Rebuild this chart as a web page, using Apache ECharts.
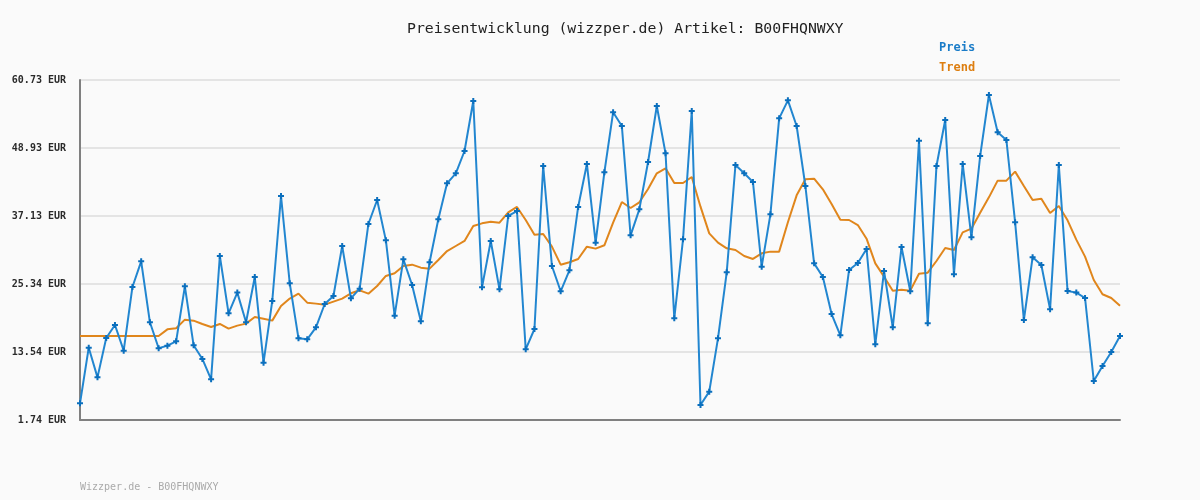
<!DOCTYPE html>
<html>
<head>
<meta charset="utf-8">
<script src="https://cdn.jsdelivr.net/npm/echarts@6/dist/echarts.min.js"></script>
<style>
html,body{margin:0;padding:0;background:#fafafa;}
#c{width:1200px;height:500px;}
</style>
</head>
<body>
<div id="c"></div>
<script>
var titleText = 'Preisentwicklung (wizzper.de) Artikel: B00FHQNWXY';
var footerText = 'Wizzper.de - B00FHQNWXY';
var yTicks = [1.74, 13.54, 25.34, 37.13, 48.93, 60.73];

var preis = [
  4.63, 14.29, 9.14, 15.97, 18.22, 13.77, 24.82, 29.27, 18.69, 14.18,
  14.64, 15.39, 24.93, 14.70, 12.33, 8.80, 30.20, 20.25, 23.84, 18.69,
  26.55, 11.69, 22.39, 40.60, 25.45, 15.91, 15.74, 17.82, 21.87, 23.26,
  31.93, 22.85, 24.53, 35.75, 39.91, 32.91, 19.84, 29.62, 25.16, 18.86,
  29.10, 36.56, 42.80, 44.54, 48.41, 57.09, 24.76, 32.80, 24.41, 37.14,
  38.00, 14.00, 17.53, 45.81, 28.46, 24.07, 27.71, 38.70, 46.16, 32.51,
  44.71, 55.12, 52.75, 33.78, 38.29, 46.50, 56.22, 48.01, 19.38, 33.09,
  55.35, 4.34, 6.66, 15.91, 27.36, 45.98, 44.54, 43.03, 28.35, 37.42,
  54.08, 57.20, 52.75, 42.34, 28.92, 26.55, 20.13, 16.43, 27.77, 28.98,
  31.41, 14.87, 27.59, 17.82, 31.76, 24.07, 50.20, 18.51, 45.81, 53.79,
  27.01, 46.16, 33.43, 47.55, 58.13, 51.65, 50.32, 36.04, 19.09, 29.97,
  28.63, 20.94, 45.98, 24.12, 23.84, 22.91, 8.51, 11.11, 13.54, 16.32
];

var trend = [
  16.32, 16.32, 16.32, 16.32, 16.32, 16.32, 16.32, 16.32, 16.32, 16.32,
  17.47, 17.65, 19.15, 18.98, 18.40, 17.88, 18.40, 17.59, 18.11, 18.46,
  19.61, 19.32, 18.98, 21.52, 22.82, 23.66, 22.10, 21.93, 21.75, 22.27,
  22.79, 23.72, 24.24, 23.66, 24.99, 26.73, 27.19, 28.46, 28.69, 28.17,
  28.00, 29.50, 31.06, 31.93, 32.80, 35.40, 35.86, 36.15, 35.98, 37.77,
  38.70, 36.44, 33.90, 34.01, 31.81, 28.69, 29.10, 29.68, 31.81, 31.47,
  32.05, 35.98, 39.56, 38.52, 39.51, 41.82, 44.54, 45.41, 42.86, 42.86,
  43.90, 38.75, 34.13, 32.51, 31.53, 31.24, 30.20, 29.68, 30.66, 30.95,
  30.95, 36.04, 40.72, 43.50, 43.61, 41.76, 39.22, 36.50, 36.44, 35.57,
  33.20, 28.92, 26.61, 24.18, 24.35, 24.18, 27.10, 27.30, 29.33, 31.58,
  31.24, 34.30, 34.94, 37.71, 40.37, 43.27, 43.27, 44.83, 42.34, 39.91,
  40.14, 37.66, 38.87, 36.38, 33.03, 30.08, 26.03, 23.55, 22.91, 21.58
];

var categories = preis.map(function (v, i) { return String(i + 1); });

var mono = '"DejaVu Sans Mono", "Liberation Mono", monospace';
var chart = echarts.init(document.getElementById('c'));
chart.setOption({
  backgroundColor: '#fafafa',
  animation: false,
  title: {
    text: titleText,
    left: 402,
    top: 17,
    textStyle: { fontFamily: mono, fontSize: 14.8, fontWeight: 'normal', color: '#222222' }
  },
  legend: {
    orient: 'vertical',
    left: 929,
    top: 37,
    icon: 'none',
    itemWidth: 0,
    itemHeight: 12,
    itemGap: 8,
    data: [
      { name: 'Preis', textStyle: { color: '#1a7cc8' } },
      { name: 'Trend', textStyle: { color: '#dd7e10' } }
    ],
    textStyle: { fontFamily: mono, fontSize: 12, fontWeight: 'bold' }
  },
  graphic: [{
    type: 'text',
    left: 80,
    top: 482,
    style: { text: footerText, font: '10px ' + mono, fill: '#aaaaaa' }
  }],
  grid: { left: 80, right: 80, top: 80, bottom: 80, containLabel: false },
  xAxis: {
    type: 'category',
    data: categories,
    boundaryGap: false,
    axisLine: { lineStyle: { color: '#808080', width: 2 } },
    axisTick: { show: false },
    axisLabel: { show: false },
    splitLine: { show: false }
  },
  yAxis: {
    type: 'value',
    min: yTicks[0],
    max: yTicks[yTicks.length - 1],
    axisLine: { show: true, lineStyle: { color: '#808080', width: 2 } },
    axisTick: { show: false, customValues: yTicks },
    axisLabel: {
      customValues: yTicks,
      margin: 14,
      fontFamily: mono,
      fontSize: 10,
      fontWeight: 'bold',
      color: '#2a2a2a',
      formatter: function (v) { return v.toFixed(2) + ' EUR'; }
    },
    splitLine: { show: true, lineStyle: { color: '#e4e4e4', width: 2 } }
  },
  series: [
    {
      name: 'Preis',
      type: 'line',
      data: preis,
      z: 3,
      symbol: 'path://M2,0 L4,0 L4,2 L6,2 L6,4 L4,4 L4,6 L2,6 L2,4 L0,4 L0,2 L2,2 Z',
      symbolSize: 6,
      showAllSymbol: true,
      itemStyle: { color: '#0b6fbd' },
      lineStyle: { color: '#2286d0', width: 2 }
    },
    {
      name: 'Trend',
      type: 'line',
      data: trend,
      z: 2,
      showSymbol: false,
      symbol: 'none',
      itemStyle: { color: '#dd7e10' },
      lineStyle: { color: '#e0861c', width: 2 }
    }
  ]
});
</script>
</body>
</html>
